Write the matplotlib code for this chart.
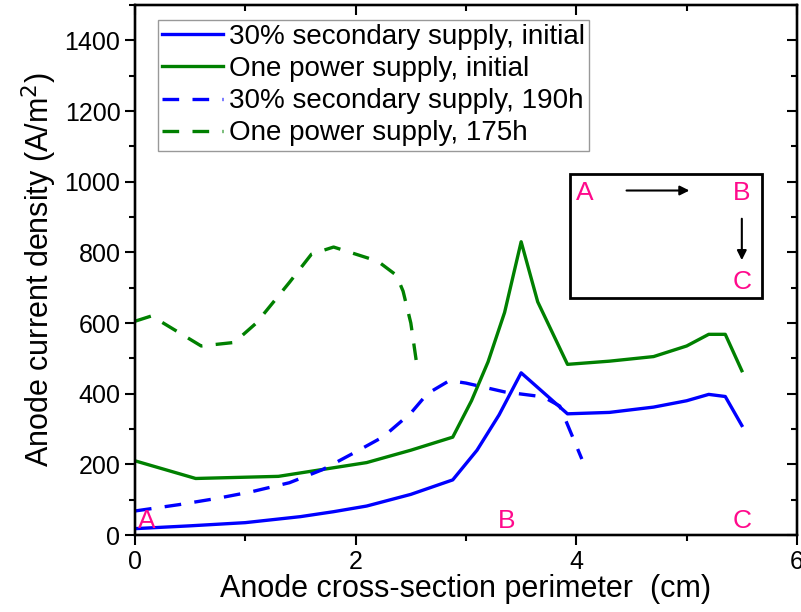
import numpy as np
import matplotlib
matplotlib.use("Agg")
import matplotlib.pyplot as plt
from matplotlib.patches import Rectangle
from matplotlib.ticker import MultipleLocator

plt.rcParams['font.family'] = ['Liberation Sans', 'DejaVu Sans']

# anode current density along the cross-section perimeter
x_sec_init = [0, 0.5, 1.0, 1.5, 1.8, 2.1, 2.5, 2.88, 3.1, 3.3, 3.5, 3.92, 4.3, 4.7, 5.0, 5.2, 5.35, 5.5]
y_sec_init = [18, 26, 35, 52, 66, 82, 115, 156, 240, 340, 459, 343, 347, 362, 380, 398, 392, 310]

x_one_init = [0, 0.55, 1.3, 2.1, 2.5, 2.88, 3.05, 3.2, 3.35, 3.5, 3.65, 3.92, 4.3, 4.7, 5.0, 5.2, 5.35, 5.5]
y_one_init = [210, 160, 166, 205, 240, 277, 380, 490, 630, 830, 660, 483, 492, 505, 535, 568, 568, 465]

x_sec_190 = [0, 0.4, 0.75, 1.05, 1.4, 1.7, 2.0, 2.25, 2.5, 2.65, 2.85, 3.0, 3.35, 3.7, 3.85, 4.05]
y_sec_190 = [68, 86, 104, 122, 148, 185, 235, 278, 345, 400, 437, 430, 405, 391, 365, 215]

x_one_175 = [0, 0.15, 0.6, 0.9, 1.1, 1.4, 1.6, 1.8, 2.0, 2.2, 2.37, 2.43, 2.5, 2.56]
y_one_175 = [605, 620, 535, 545, 600, 715, 795, 815, 795, 775, 735, 690, 600, 470]

labels = ["30% secondary supply, initial", "One power supply, initial",
          "30% secondary supply, 190h", "One power supply, 175h"]

pink = "#FF0A8C"

fig = plt.figure(figsize=(8.01, 6.12), dpi=100)
ax = fig.add_axes([0.1685, 0.1258, 0.8265, 0.866])

lw = 2.4
ax.plot(x_sec_init, y_sec_init, color="#0000FF", lw=lw, label=labels[0])
ax.plot(x_one_init, y_one_init, color="#008000", lw=lw, label=labels[1])
ax.plot(x_sec_190, y_sec_190, color="#0000FF", lw=lw, ls=(0, (5, 4)), label=labels[2])
ax.plot(x_one_175, y_one_175, color="#008000", lw=lw, ls=(0, (5, 4)), label=labels[3])

ax.set_xlim(0, 6)
ax.set_ylim(0, 1500)
ax.xaxis.set_major_locator(MultipleLocator(2))
ax.xaxis.set_minor_locator(MultipleLocator(1))
ax.set_yticks(np.arange(0, 1401, 200))
ax.yaxis.set_minor_locator(MultipleLocator(100))

ax.tick_params(which='both', direction='out', labelsize=18, width=1.5)
ax.tick_params(which='major', length=7)
ax.tick_params(which='minor', length=4)
for sp in ax.spines.values():
    sp.set_linewidth(1.6)

# inward ticks on the top and right spines
axt = ax.twiny()
axt.set_xlim(ax.get_xlim())
axt.xaxis.set_major_locator(MultipleLocator(2))
axt.xaxis.set_minor_locator(MultipleLocator(1))
axt.tick_params(which='both', direction='in', labeltop=False, width=1.5)
axt.tick_params(which='major', length=7)
axt.tick_params(which='minor', length=4)
axr = ax.twinx()
axr.set_ylim(ax.get_ylim())
axr.set_yticks(np.arange(0, 1401, 200))
axr.yaxis.set_minor_locator(MultipleLocator(100))
axr.tick_params(which='both', direction='in', labelright=False, width=1.5)
axr.tick_params(which='major', length=7)
axr.tick_params(which='minor', length=4)
for a in (axt, axr):
    for sp in a.spines.values():
        sp.set_linewidth(1.6)

ax.set_xlabel("Anode cross-section perimeter  (cm)", fontsize=22, labelpad=0)
ax.set_ylabel("Anode current density (A/m$^2$)", fontsize=22, labelpad=4)

leg = axr.legend(*ax.get_legend_handles_labels(), loc='upper left',
                 bbox_to_anchor=(0.035, 0.972), fontsize=20,
                 frameon=True, fancybox=False, handlelength=2.2,
                 handletextpad=0.2, borderpad=0.15, labelspacing=0.22,
                 borderaxespad=0)
leg.get_frame().set_edgecolor("#808080")
leg.get_frame().set_linewidth(1.0)

# perimeter markers
fs = 19
ax.text(0.11, 40, "A", color=pink, fontsize=fs, ha='center', va='center')
ax.text(3.37, 40, "B", color=pink, fontsize=fs, ha='center', va='center')
ax.text(5.5, 40, "C", color=pink, fontsize=fs, ha='center', va='center')

# sketch of the cross-section path
ax.add_patch(Rectangle((3.94, 671), 1.74, 352, fill=False, lw=2, ec='black', zorder=3))
ax.text(4.08, 967, "A", color=pink, fontsize=fs, ha='center', va='center')
ax.text(5.50, 967, "B", color=pink, fontsize=fs, ha='center', va='center')
ax.text(5.50, 717, "C", color=pink, fontsize=fs, ha='center', va='center')
ax.annotate("", xy=(5.05, 975), xytext=(4.43, 975),
            arrowprops=dict(arrowstyle='-|>', color='black', lw=1.5, mutation_scale=14))
ax.annotate("", xy=(5.50, 770), xytext=(5.50, 903),
            arrowprops=dict(arrowstyle='-|>', color='black', lw=1.5, mutation_scale=14))

fig.savefig("out.png", dpi=100)
